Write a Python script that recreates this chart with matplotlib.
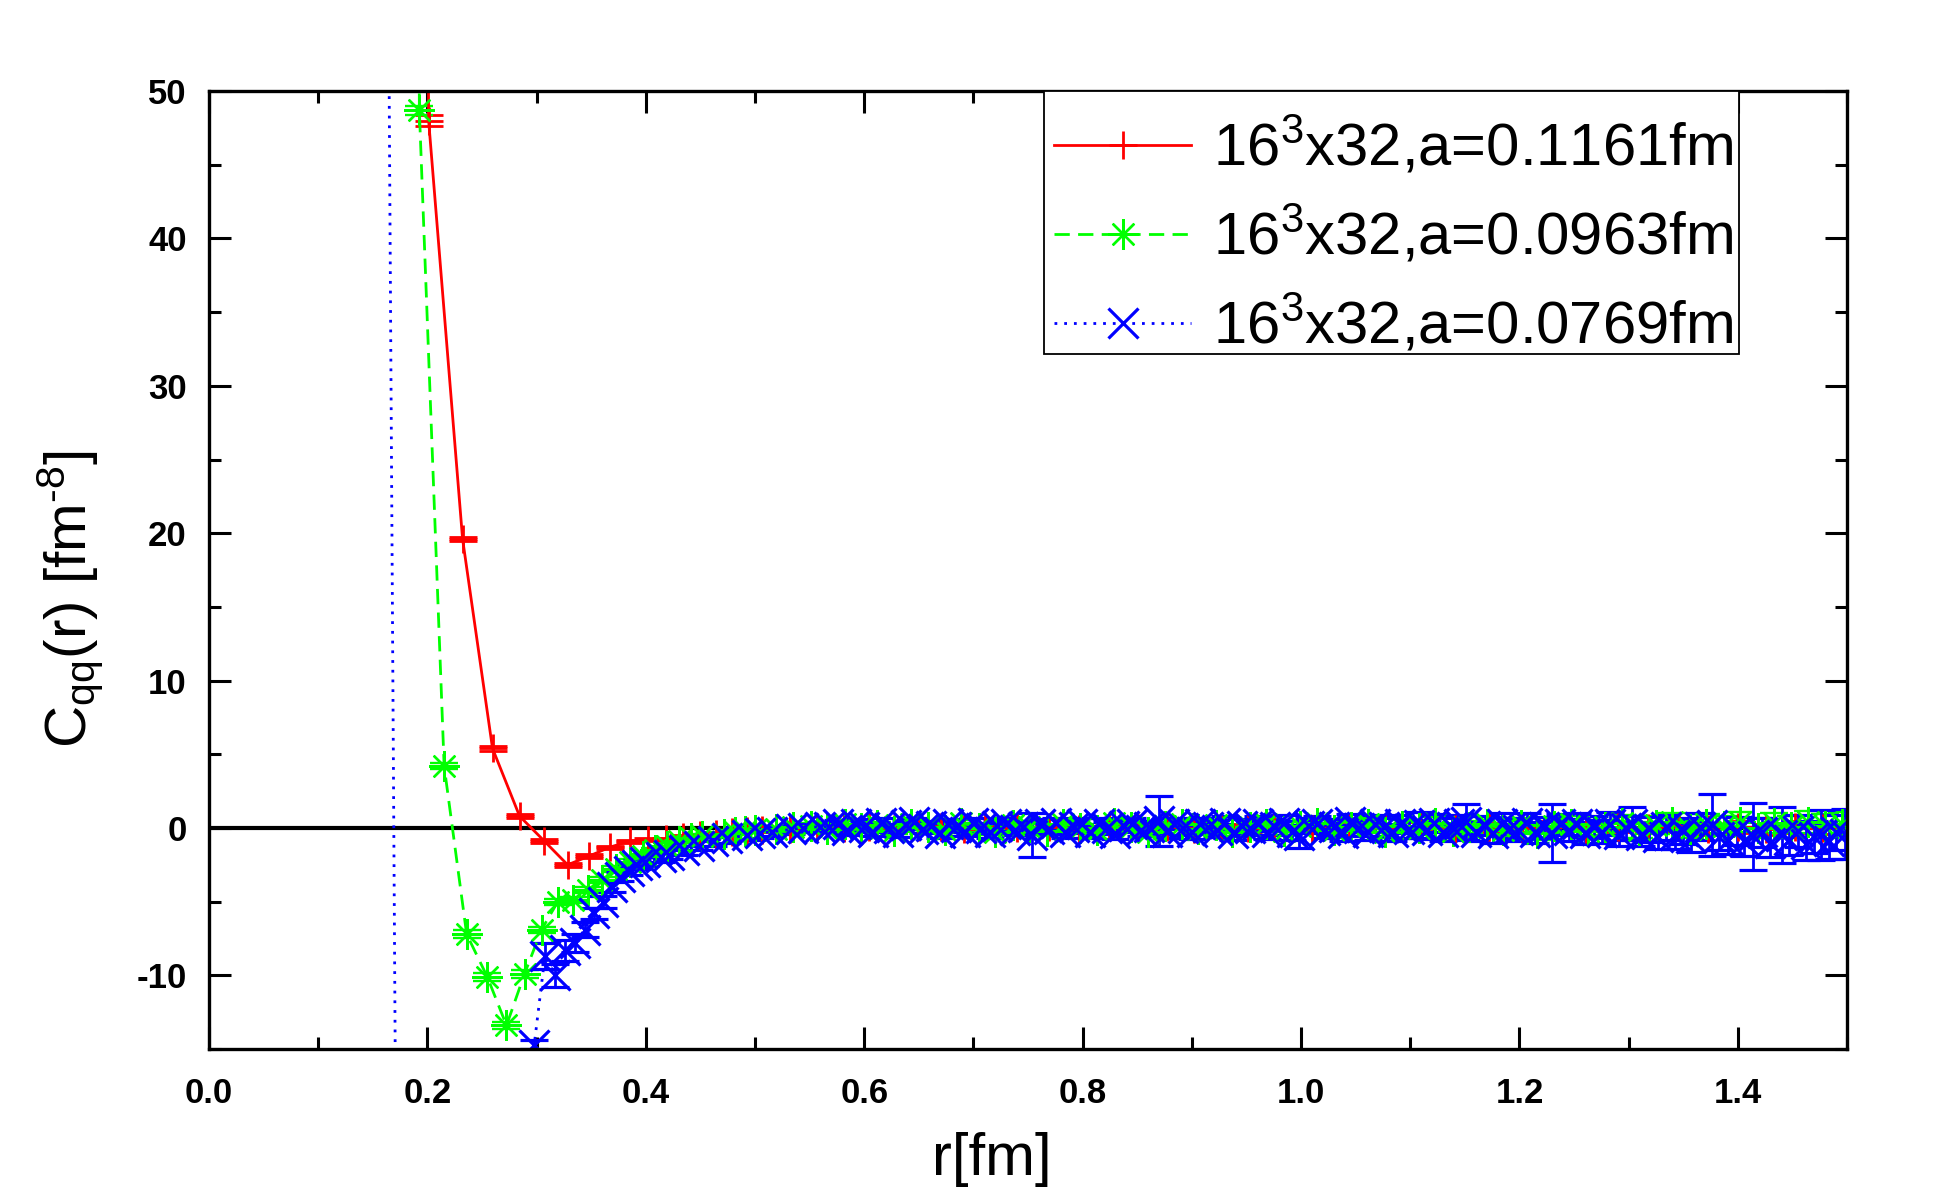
import matplotlib
matplotlib.use('Agg')
import matplotlib.pyplot as plt
from matplotlib.patches import Rectangle
from matplotlib.ticker import MultipleLocator, FormatStrFormatter

plt.rcParams['font.family'] = ['Liberation Sans', 'DejaVu Sans']
plt.rcParams['mathtext.fontset'] = 'custom'
plt.rcParams['mathtext.rm'] = 'Liberation Sans'
plt.rcParams['mathtext.it'] = 'Liberation Sans'
plt.rcParams['mathtext.bf'] = 'Liberation Sans:bold'
plt.rcParams['axes.unicode_minus'] = False

# ---------------------------------------------------------------
# data (first points are off-scale, estimated)
# ---------------------------------------------------------------
labels = ['16$^3$x32,a=0.1161fm', '16$^3$x32,a=0.0963fm', '16$^3$x32,a=0.0769fm']

# a = 0.1161 fm
r_red = [0.1642, 0.2011, 0.2322, 0.2596, 0.2844, 0.3072, 0.3284, 0.3483, 0.3671, 0.3851,
         0.4022, 0.4186, 0.4344, 0.4497, 0.4644, 0.4787, 0.4926, 0.5061, 0.5192,
         0.532, 0.557, 0.581, 0.604, 0.627, 0.649, 0.670, 0.691, 0.711, 0.740,
         0.769, 0.797, 0.824, 0.851, 0.877, 0.902, 0.927, 0.951, 0.975, 1.010,
         1.044, 1.077, 1.109, 1.141, 1.172, 1.202, 1.232, 1.261, 1.290, 1.318,
         1.346, 1.373, 1.400, 1.426, 1.452, 1.478]
c_red = [600, 48.0, 19.6, 5.4, 0.8, -0.9, -2.5, -1.9, -1.3, -0.9,
         -0.8, -0.75, -0.6, -0.5, -0.4, -0.3, -0.2, -0.15, -0.1,
         -0.05, 0.05, 0.0, 0.1, -0.05, 0.05, 0.1, -0.05, 0.05, 0.0,
         0.1, -0.05, 0.05, 0.0, 0.1, -0.05, 0.05, 0.0, 0.05, -0.05,
         0.05, 0.0, 0.1, -0.05, 0.05, 0.0, 0.1, -0.1, 0.05, 0.0,
         0.1, -0.05, 0.05, -0.1, 0.05, 0.0]
e_red = [5, 0.35, 0.15, 0.15, 0.12, 0.12, 0.12, 0.12, 0.1, 0.1,
         0.1, 0.1, 0.1, 0.1, 0.1, 0.1, 0.1, 0.1, 0.1,
         0.15, 0.15, 0.15, 0.15, 0.15, 0.15, 0.15, 0.15, 0.15, 0.2,
         0.2, 0.2, 0.2, 0.2, 0.2, 0.2, 0.2, 0.25, 0.25, 0.25,
         0.25, 0.3, 0.3, 0.3, 0.3, 0.3, 0.35, 0.35, 0.35, 0.35,
         0.4, 0.4, 0.4, 0.4, 0.4, 0.4]

# a = 0.0963 fm
r_green = [0.1668, 0.1926, 0.2153, 0.2359, 0.2548, 0.2724, 0.2889, 0.3045, 0.3194, 0.3336,
           0.3472, 0.3603, 0.3730, 0.3852, 0.3971, 0.4086, 0.4198, 0.4307, 0.4413, 0.4517,
           0.4718, 0.4815, 0.4910, 0.5004,
           0.519, 0.535, 0.551, 0.566, 0.582, 0.597, 0.612, 0.627, 0.643, 0.658,
           0.674, 0.689, 0.705, 0.720, 0.736, 0.751, 0.767, 0.782, 0.798, 0.813,
           0.829, 0.844, 0.860, 0.875, 0.891, 0.906, 0.922, 0.937, 0.953, 0.968,
           0.984, 0.999, 1.015, 1.030, 1.046, 1.061, 1.077, 1.092, 1.108, 1.123,
           1.139, 1.154, 1.170, 1.185, 1.201, 1.216, 1.232, 1.247, 1.263, 1.278,
           1.294, 1.309, 1.325, 1.340, 1.356, 1.371, 1.387, 1.402, 1.418, 1.433,
           1.449, 1.464, 1.480, 1.495]
c_green = [800, 48.7, 4.2, -7.2, -10.1, -13.4, -9.9, -6.9, -5.0, -4.9,
           -4.2, -3.5, -2.8, -2.3, -1.9, -1.5, -1.2, -0.9, -0.7, -0.55,
           -0.4, -0.3, -0.2, -0.15,
           -0.1, 0.05, 0.15, -0.1, 0.3, 0.0, 0.2, -0.2, 0.3, 0.05,
           -0.15, 0.35, 0.0, -0.3, 0.2, 0.05, -0.2, 0.3, 0.0, -0.15,
           0.35, 0.05, -0.3, 0.15, 0.3, -0.05, 0.2, -0.3, 0.05, 0.3,
           -0.2, 0.15, 0.35, -0.15, 0.05, 0.3, -0.3, 0.15, 0.0, 0.35,
           -0.2, 0.05, 0.3, -0.15, 0.2, -0.35, 0.15, 0.3, -0.2, 0.05,
           0.35, -0.15, 0.2, 0.4, -0.05, 0.3, 0.15, 0.4, 0.0, 0.35,
           0.05, 0.4, 0.15, 0.3]
e_green = [5, 0.3, 0.2, 0.25, 0.25, 0.25, 0.25, 0.2, 0.2, 0.2,
           0.2, 0.2, 0.2, 0.2, 0.15, 0.15, 0.15, 0.15, 0.15, 0.15,
           0.15, 0.15, 0.15, 0.15,
           0.2, 0.2, 0.2, 0.2, 0.2, 0.2, 0.2, 0.2, 0.2, 0.2,
           0.2, 0.2, 0.2, 0.2, 0.2, 0.25, 0.25, 0.25, 0.25, 0.25,
           0.25, 0.25, 0.25, 0.25, 0.25, 0.3, 0.3, 0.3, 0.3, 0.3,
           0.3, 0.3, 0.35, 0.35, 0.35, 0.35, 0.35, 0.4, 0.4, 0.4,
           0.4, 0.4, 0.45, 0.45, 0.45, 0.45, 0.5, 0.5, 0.5, 0.5,
           0.55, 0.55, 0.6, 0.6, 0.6, 0.65, 0.65, 0.7, 0.7, 0.7,
           0.75, 0.75, 0.8, 0.8]

# a = 0.0769 fm
r_blue = [0.1538, 0.1720, 0.2175, 0.2877, 0.2978, 0.3076, 0.3171, 0.3263, 0.3352, 0.3439,
          0.3524, 0.3607, 0.3688, 0.3767, 0.3845, 0.3921, 0.3996, 0.4141, 0.4212, 0.4350,
          0.4484, 0.4614, 0.4740, 0.4924, 0.5043, 0.5159, 0.5328, 0.5438, 0.5598,
          0.568, 0.576, 0.584, 0.592, 0.600, 0.608, 0.615, 0.623, 0.631, 0.638,
          0.646, 0.654, 0.661, 0.669, 0.677, 0.684, 0.692, 0.700, 0.707, 0.715,
          0.722, 0.730, 0.738, 0.745, 0.754, 0.761, 0.769, 0.776, 0.784, 0.792,
          0.799, 0.807, 0.815, 0.822, 0.830, 0.838, 0.845, 0.853, 0.861, 0.870,
          0.877, 0.884, 0.892, 0.900, 0.907, 0.915, 0.923, 0.930, 0.938, 0.946,
          0.953, 0.961, 0.969, 0.976, 0.984, 0.992, 0.998, 1.007, 1.015, 1.022,
          1.030, 1.038, 1.045, 1.053, 1.061, 1.068, 1.076, 1.084, 1.091, 1.099,
          1.108, 1.115, 1.122, 1.130, 1.138, 1.145, 1.151, 1.160, 1.168, 1.176,
          1.184, 1.191, 1.199, 1.207, 1.214, 1.222, 1.230, 1.237, 1.245, 1.253,
          1.260, 1.268, 1.276, 1.283, 1.291, 1.298, 1.303, 1.311, 1.319, 1.327,
          1.334, 1.342, 1.350, 1.357, 1.365, 1.376, 1.383, 1.391, 1.399, 1.406,
          1.414, 1.422, 1.429, 1.440, 1.447, 1.455, 1.462, 1.470, 1.476, 1.483,
          1.490, 1.498]
c_blue = [182, -33, -60, -30, -14.7, -8.7, -10.0, -8.3, -7.8, -6.9,
          -5.8, -5.0, -4.0, -3.3, -2.9, -2.5, -2.3, -2.0, -1.8, -1.5,
          -1.2, -0.9, -0.7, -0.5, -0.35, -0.25, -0.1, 0.0, 0.1,
          0.05, 0.25, -0.15, 0.3, 0.05, -0.25, 0.35, 0.0, -0.3, 0.2,
          0.4, -0.05, 0.15, -0.35, 0.3, 0.05, -0.25, 0.35, 0.0, -0.3,
          0.15, 0.3, -0.15, 0.05, -0.5, 0.25, -0.05, 0.35, -0.3, 0.05,
          0.25, -0.25, 0.3, 0.0, -0.35, 0.15, 0.3, -0.15, 0.05, 0.5,
          -0.25, 0.3, 0.0, -0.3, 0.25, 0.05, -0.15, 0.35, -0.35, 0.15,
          0.0, 0.3, -0.25, 0.05, 0.35, -0.3, -0.45, 0.15, 0.3, -0.15,
          0.05, -0.35, 0.4, 0.0, -0.25, 0.3, 0.05, -0.3, 0.25, -0.05,
          0.2, -0.15, 0.35, -0.3, 0.05, 0.25, 0.4, -0.25, 0.15, -0.35,
          0.3, 0.0, -0.15, 0.35, -0.3, 0.05, -0.37, 0.25, -0.15, 0.3,
          -0.35, 0.05, -0.25, 0.3, -0.4, 0.0, 0.3, -0.45, -0.1, -0.6,
          0.05, -0.5, -0.2, -0.7, 0.1, 0.2, -0.6, -0.8, -0.2, -0.9,
          -0.57, -0.3, -1.0, -0.5, -0.8, -0.2, -1.1, -0.6, -0.45, -0.9,
          -0.3, -0.4]
e_blue = [5, 5, 5, 5, 0.3, 0.9, 0.8, 0.7, 0.6, 0.5,
          0.4, 0.4, 0.35, 0.3, 0.3, 0.3, 0.3, 0.3, 0.3, 0.3,
          0.3, 0.3, 0.3, 0.3, 0.3, 0.3, 0.3, 0.3, 0.3,
          0.3, 0.3, 0.3, 0.3, 0.3, 0.3, 0.3, 0.3, 0.3, 0.3,
          0.3, 0.3, 0.3, 0.3, 0.3, 0.3, 0.3, 0.35, 0.35, 0.35,
          0.35, 0.35, 0.35, 0.35, 1.5, 0.35, 0.35, 0.35, 0.4, 0.4,
          0.4, 0.4, 0.4, 0.4, 0.4, 0.4, 0.4, 0.4, 0.4, 1.7,
          0.4, 0.4, 0.45, 0.45, 0.45, 0.45, 0.45, 0.45, 0.45, 0.45,
          0.5, 0.5, 0.5, 0.5, 0.5, 0.5, 0.9, 0.5, 0.5, 0.5,
          0.55, 0.55, 0.55, 0.55, 0.55, 0.55, 0.6, 0.6, 0.6, 0.6,
          0.9, 0.6, 0.6, 0.6, 0.65, 0.65, 1.2, 0.65, 0.65, 0.65,
          0.7, 0.7, 0.7, 0.7, 0.7, 0.7, 1.97, 0.7, 0.75, 0.75,
          0.75, 0.75, 0.8, 0.8, 0.8, 0.8, 1.1, 0.8, 0.85, 0.85,
          0.85, 0.9, 0.9, 0.9, 0.9, 2.1, 0.9, 0.95, 0.95, 1.0,
          2.27, 1.0, 1.0, 1.9, 1.0, 1.1, 1.1, 1.1, 1.7, 1.2,
          1.2, 1.7]

# ---------------------------------------------------------------
fig = plt.figure(figsize=(19.48, 11.94), dpi=100)
ax = fig.add_axes([0.1073, 0.1214, 0.8409, 0.8023])

ax.axhline(0, color='black', lw=3.0, zorder=1)

style = dict(ms=19.5, mew=2.0, capsize=10, capthick=2.0, elinewidth=2.0, lw=2.0)
eb_red = ax.errorbar(r_red, c_red, yerr=e_red, color='#ff0000', ls='-',
                     marker='+', **style)
eb_green = ax.errorbar(r_green, c_green, yerr=e_green, color='#00ff00', ls=(0, (5.5, 3)),
                       marker=(8, 2, 0), **dict(style, ms=22, mew=1.7))
eb_blue = ax.errorbar(r_blue, c_blue, yerr=e_blue, color='#0000ff', ls=(0, (1, 2.5)),
                      marker='x', **dict(style, ms=22, mew=2.3))

ax.set_xlim(0, 1.5)
ax.set_ylim(-15, 50)
ax.xaxis.set_major_locator(MultipleLocator(0.2))
ax.xaxis.set_minor_locator(MultipleLocator(0.1))
ax.yaxis.set_major_locator(MultipleLocator(10))
ax.yaxis.set_minor_locator(MultipleLocator(5))
ax.xaxis.set_major_formatter(FormatStrFormatter('%.1f'))

for s in ax.spines.values():
    s.set_linewidth(2.4)
ax.tick_params(which='both', direction='in', top=True, right=True, width=2.2)
ax.tick_params(which='major', length=16)
ax.tick_params(which='minor', length=8.5)
ax.tick_params(axis='x', pad=20)
ax.tick_params(axis='y', pad=16)
for t in ax.get_xticklabels() + ax.get_yticklabels():
    t.set_fontsize(25)
    t.set_fontweight('bold')

ax.set_xlabel('r[fm]', fontsize=43, va='top')
ax.xaxis.set_label_coords(0.4776, -0.087)
ax.set_ylabel('C$_{\\mathrm{qq}}$(r) [fm$^{\u2010 8}$]', fontsize=42)
ax.yaxis.set_label_coords(-0.063, 0.47)

# legend box drawn separately so the entries can sit where they do in the original
ax.add_patch(Rectangle((0.5096, 0.7255), 0.4247, 0.2745, transform=ax.transAxes,
                       facecolor='white', edgecolor='black', lw=1.3, zorder=4.9,
                       clip_on=False))
leg = ax.legend([eb_red[0], eb_green[0], eb_blue[0]], labels,
                loc='upper left', bbox_to_anchor=(0.5158, 0.9742), fontsize=43,
                frameon=False, borderaxespad=0, handlelength=2.3, handletextpad=0.36,
                labelspacing=0.45, borderpad=0, numpoints=1)
leg.set_zorder(5)

fig.savefig('out.png', dpi=100)
